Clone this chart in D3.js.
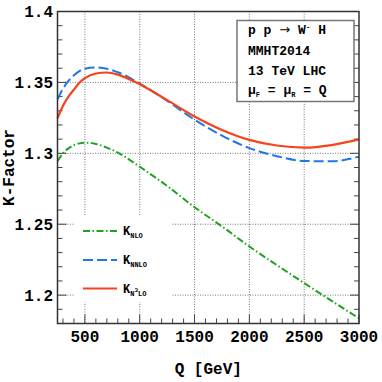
<!DOCTYPE html>
<html>
<head>
<meta charset="utf-8">
<script src="https://cdn.jsdelivr.net/npm/d3@7"></script>
<style>
body { margin: 0; background: #fff; }
text { font-family: "Liberation Mono", "DejaVu Sans Mono", monospace; font-weight: bold; fill: #000; }
</style>
</head>
<body>
<div id="chartBox"></div>
<script>
// values
var qValues = [250, 300, 350, 400, 450, 500, 600, 700, 800, 1000, 1250, 1500, 1750, 2000, 2250, 2500, 2750, 3000];
var kNLO    = [1.2945, 1.3000, 1.3035, 1.3058, 1.3070, 1.3075, 1.3066, 1.3040, 1.3005, 1.2905, 1.2770, 1.2620, 1.2485, 1.2343, 1.2212, 1.2085, 1.1960, 1.1836];
var kNNLO   = [1.3380, 1.3455, 1.3510, 1.3550, 1.3580, 1.3597, 1.3605, 1.3596, 1.3572, 1.3492, 1.3370, 1.3237, 1.3125, 1.3037, 1.2980, 1.2946, 1.2944, 1.2976];
var kN3LO   = [1.3247, 1.3335, 1.3400, 1.3450, 1.3497, 1.3530, 1.3563, 1.3570, 1.3555, 1.3487, 1.3375, 1.3260, 1.3165, 1.3095, 1.3055, 1.3040, 1.3058, 1.3098];
var xTicks = [500, 1000, 1500, 2000, 2500, 3000];
var yTicks = [1.2, 1.25, 1.3, 1.35, 1.4];
var xGrid = [500, 1000, 1500, 2000, 2500];
var yGrid = [1.2, 1.25, 1.3, 1.35];

var W = 382, H = 382;
var pL = 57.5, pR = 359, pT = 11.5, pB = 323.5;

var x = d3.scaleLinear().domain([250, 3000]).range([pL, pR]);
var y = d3.scaleLinear().domain([1.18, 1.4]).range([pB, pT]);

var svg = d3.select('#chartBox').append('svg')
    .attr('width', W)
    .attr('height', H);

// grid
svg.append('g').selectAll('line')
    .data(xGrid)
    .enter().append('line')
    .attr('x1', d => x(d)).attr('x2', d => x(d))
    .attr('y1', pT).attr('y2', pB)
    .attr('stroke', '#777').attr('stroke-width', 1)
    .attr('stroke-dasharray', '1,1.5');
svg.append('g').selectAll('line')
    .data(yGrid)
    .enter().append('line')
    .attr('y1', d => y(d)).attr('y2', d => y(d))
    .attr('x1', pL).attr('x2', pR)
    .attr('stroke', '#777').attr('stroke-width', 1)
    .attr('stroke-dasharray', '1,1.5');

// minor + major ticks, inward
var xMinor = d3.range(300, 3001, 100);
var yMinor = d3.range(118, 141, 1).map(d => d / 100);
function isMajorY(d) { return Math.round(d * 100) % 5 === 0; }
var tickG = svg.append('g').attr('stroke', '#444').attr('stroke-width', 1);
tickG.selectAll('.xt').data(xMinor).enter().append('line')
    .attr('x1', d => x(d)).attr('x2', d => x(d))
    .attr('y1', pB).attr('y2', d => pB - (d % 500 === 0 ? 9 : 5));
tickG.selectAll('.yl').data(yMinor).enter().append('line')
    .attr('y1', d => y(d)).attr('y2', d => y(d))
    .attr('x1', pL).attr('x2', d => pL + (isMajorY(d) ? 9 : 5));
tickG.selectAll('.yr').data(yMinor).enter().append('line')
    .attr('y1', d => y(d)).attr('y2', d => y(d))
    .attr('x1', pR).attr('x2', d => pR - (isMajorY(d) ? 9 : 5));

// white patch behind legend
svg.append('rect')
    .attr('x', 75).attr('y', 215)
    .attr('width', 97).attr('height', 87)
    .attr('fill', '#fff');

// curves
var series = [
    {name: 'NLO', vals: kNLO, color: '#1fa31f', dash: '7,2.5,1.5,2.5', width: 2},
    {name: 'NNLO', vals: kNNLO, color: '#1e78ea', dash: '10,4', width: 2},
    {name: 'N3LO', vals: kN3LO, color: '#f5431c', dash: null, width: 2.2}
];
var line = d3.line()
    .x(d => x(d[0]))
    .y(d => y(d[1]))
    .curve(d3.curveMonotoneX);

series.forEach(function(s) {
    svg.append('path')
        .datum(qValues.map((q, i) => [q, s.vals[i]]))
        .attr('d', line)
        .attr('fill', 'none')
        .attr('stroke', s.color)
        .attr('stroke-width', s.width)
        .attr('stroke-dasharray', s.dash);
});

// frame
svg.append('rect')
    .attr('x', pL).attr('y', pT)
    .attr('width', pR - pL).attr('height', pB - pT)
    .attr('fill', 'none')
    .attr('stroke', '#333')
    .attr('stroke-width', 1.5);

// tick labels
svg.append('g').selectAll('text')
    .data(xTicks)
    .enter().append('text')
    .attr('x', d => x(d))
    .attr('y', 342)
    .attr('text-anchor', 'middle')
    .style('font-size', '16px')
    .text(d => d);
svg.append('g').selectAll('text')
    .data(yTicks)
    .enter().append('text')
    .attr('x', 53)
    .attr('y', d => y(d) + 5.5)
    .attr('text-anchor', 'end')
    .style('font-size', '16px')
    .text(d => d);

// axis titles
svg.append('text')
    .attr('x', (pL + pR) / 2)
    .attr('y', 374)
    .attr('text-anchor', 'middle')
    .style('font-size', '16px')
    .text('Q  [GeV]');
svg.append('text')
    .attr('transform', 'translate(14,' + ((pT + pB) / 2) + ') rotate(-90)')
    .attr('text-anchor', 'middle')
    .style('font-size', '16px')
    .text('K-Factor');

// legend
var legY = [231, 260, 288.5];
series.forEach(function(s, i) {
    svg.append('line')
        .attr('x1', 83).attr('x2', 117)
        .attr('y1', legY[i]).attr('y2', legY[i])
        .attr('stroke', s.color)
        .attr('stroke-width', s.width)
        .attr('stroke-dasharray', s.dash);
    var t = svg.append('text')
        .attr('x', 123)
        .attr('y', legY[i] + 4)
        .style('font-size', '12px');
    t.append('tspan').text('K');
    if (s.name === 'N3LO') {
        t.append('tspan').attr('dy', 3).style('font-size', '7px').text('N');
        t.append('tspan').attr('dy', -4).style('font-size', '6px').text('3');
        t.append('tspan').attr('dy', 4).style('font-size', '7px').text('LO');
    } else {
        t.append('tspan').attr('dy', 3).style('font-size', '7px').text(s.name);
    }
});

// info box
svg.append('rect')
    .attr('x', 237).attr('y', 20.5)
    .attr('width', 117).attr('height', 81)
    .attr('fill', '#fff')
    .attr('stroke', '#777')
    .attr('stroke-width', 1.5);

var bx = 248;
var t1 = svg.append('text').attr('x', bx).attr('y', 34).style('font-size', '13px');
t1.append('tspan').text('p p ');
t1.append('tspan').style('font-family', '"DejaVu Sans"').style('font-weight', 'normal').text('\u2192');
t1.append('tspan').text(' W');
t1.append('tspan').attr('dy', -5).style('font-size', '8px').text('-');
t1.append('tspan').attr('dy', 5).text(' H');

svg.append('text').attr('x', bx).attr('y', 54.5).style('font-size', '13px').text('MMHT2014');
svg.append('text').attr('x', bx).attr('y', 75).style('font-size', '13px').text('13 TeV LHC');

var t4 = svg.append('text').attr('x', bx).attr('y', 94).style('font-size', '13px');
t4.append('tspan').text('\u03bc');
t4.append('tspan').attr('dy', 3).style('font-size', '7px').text('F');
t4.append('tspan').attr('dy', -3).text(' = \u03bc');
t4.append('tspan').attr('dy', 3).style('font-size', '7px').text('R');
t4.append('tspan').attr('dy', -3).text(' = Q');
</script>
</body>
</html>
